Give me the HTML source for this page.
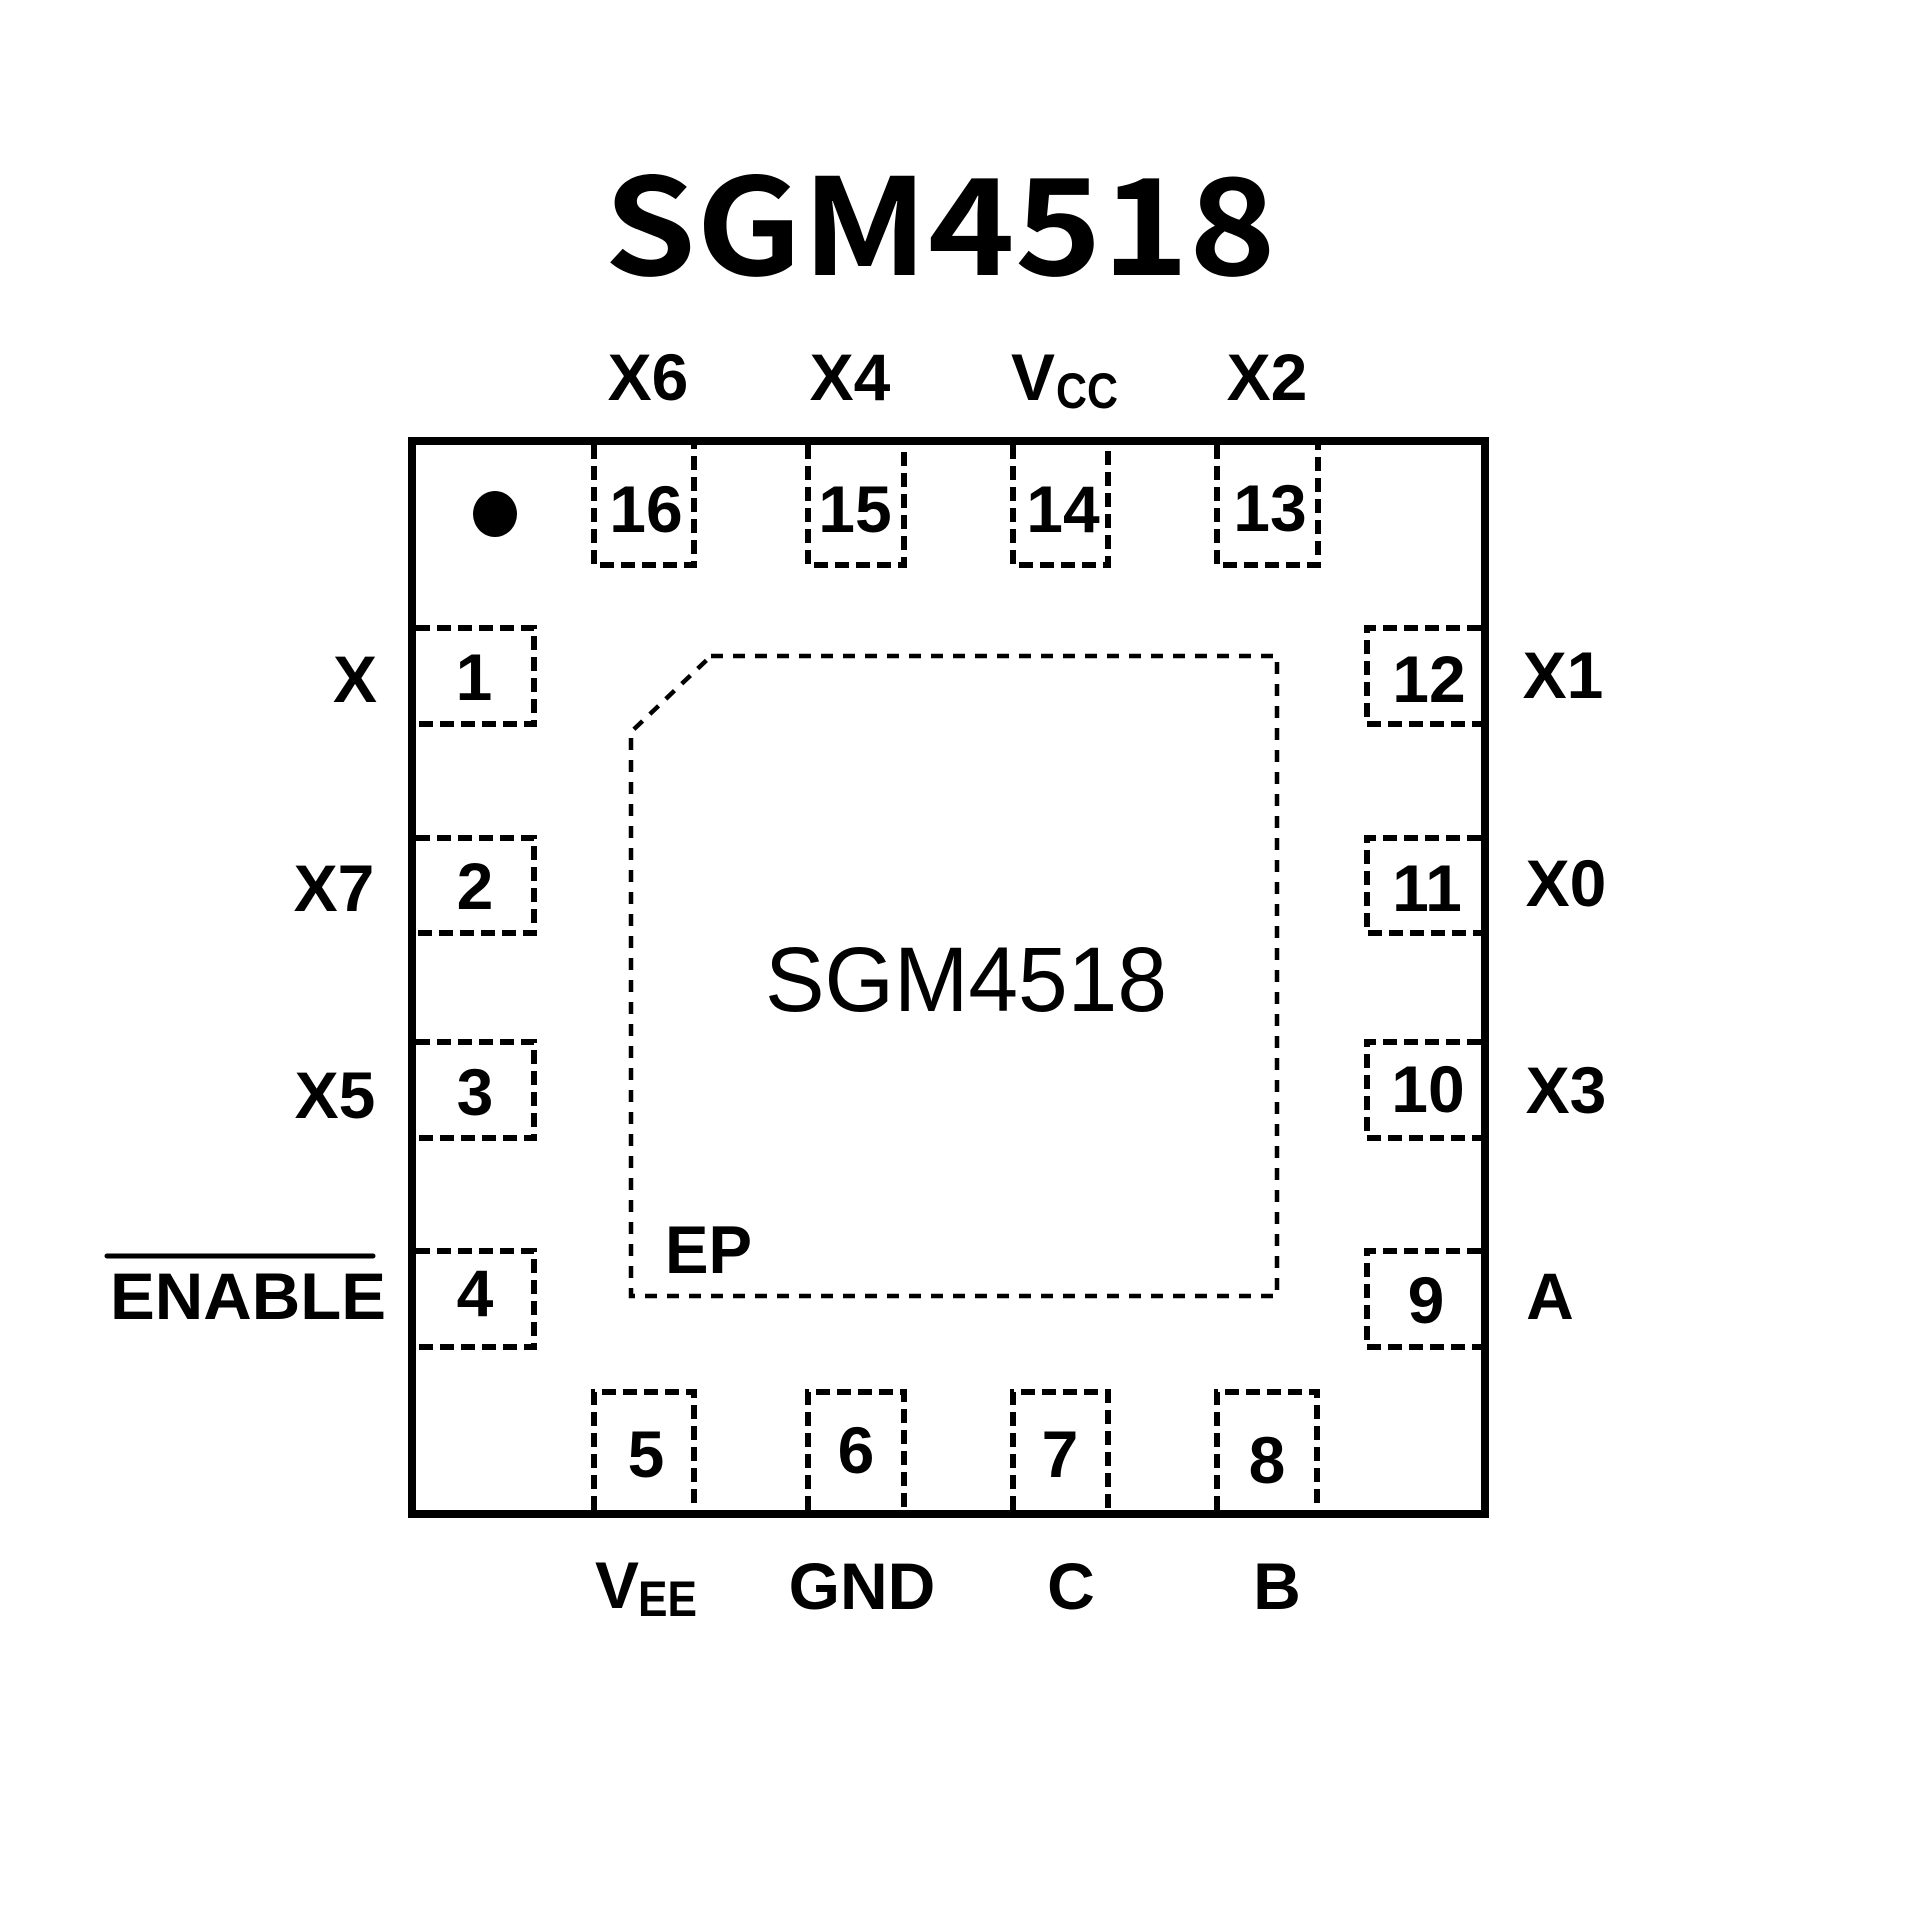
<!DOCTYPE html>
<html>
<head>
<meta charset="utf-8">
<style>
  html, body { margin: 0; padding: 0; background: #ffffff; }
  body { width: 1920px; height: 1920px; overflow: hidden; }
  svg { display: block; }
  .lbl { font-family: "Liberation Sans", Arial, sans-serif; font-weight: bold; font-size: 66px; fill: #000; }
  .num { font-family: "Liberation Sans", Arial, sans-serif; font-weight: bold; font-size: 66px; fill: #000; }
  .sub { font-family: "Liberation Sans", Arial, sans-serif; font-weight: bold; font-size: 50px; fill: #000; }
  .pin { fill: none; stroke: #000; stroke-width: 6; stroke-dasharray: 14 7; }
  .ep { fill: none; stroke: #000; stroke-width: 4.5; stroke-dasharray: 12 10; }
</style>
</head>
<body>
<svg width="1920" height="1920" viewBox="0 0 1920 1920" xmlns="http://www.w3.org/2000/svg">
  <rect x="0" y="0" width="1920" height="1920" fill="#fff"/>

  <!-- Title -->
  <text x="604" y="275" font-family="'Noto Sans CJK SC', 'DejaVu Sans', sans-serif" font-weight="bold" font-size="134" textLength="672" lengthAdjust="spacingAndGlyphs" fill="#000">SGM4518</text>

  <!-- Top labels -->
  <text class="lbl" x="648" y="400" text-anchor="middle">X6</text>
  <text class="lbl" x="850" y="400" text-anchor="middle">X4</text>
  <text class="lbl" x="1033" y="400" text-anchor="middle">V</text>
  <text class="sub" x="1056" y="408" textLength="62" lengthAdjust="spacingAndGlyphs">CC</text>
  <text class="lbl" x="1267" y="400" text-anchor="middle">X2</text>

  <!-- Package outline -->
  <rect x="412" y="441" width="1073" height="1073" fill="none" stroke="#000" stroke-width="8"/>

  <!-- Pin 1 dot -->
  <ellipse cx="495" cy="514" rx="22" ry="23" fill="#000"/>

  <!-- Top pins -->
  <path class="pin" d="M594 445 V565 H694 V445"/>
  <path class="pin" d="M808 445 V565 H904 V445"/>
  <path class="pin" d="M1013 445 V565 H1108 V445"/>
  <path class="pin" d="M1217 445 V565 H1318 V445"/>

  <!-- Bottom pins -->
  <path class="pin" d="M594 1510 V1392 H694 V1510"/>
  <path class="pin" d="M808 1510 V1392 H904 V1510"/>
  <path class="pin" d="M1013 1510 V1392 H1108 V1510"/>
  <path class="pin" d="M1217 1510 V1392 H1317 V1510"/>

  <!-- Left pins -->
  <path class="pin" d="M416 628 H534 V724 H416"/>
  <path class="pin" d="M416 838 H534 V933 H416"/>
  <path class="pin" d="M416 1042 H534 V1138 H416"/>
  <path class="pin" d="M416 1251 H534 V1347 H416"/>

  <!-- Right pins -->
  <path class="pin" d="M1481 628 H1367 V724 H1481"/>
  <path class="pin" d="M1481 838 H1367 V933 H1481"/>
  <path class="pin" d="M1481 1042 H1367 V1138 H1481"/>
  <path class="pin" d="M1481 1251 H1367 V1347 H1481"/>

  <!-- Exposed pad -->
  <path class="ep" d="M711 656 H1277 V1296 H631 V732 Z"/>

  <!-- Center text -->
  <text x="765" y="1011" font-family="'Liberation Sans', Arial, sans-serif" font-size="92" textLength="402" lengthAdjust="spacingAndGlyphs" fill="#000">SGM4518</text>
  <text x="665" y="1273" font-family="'Liberation Sans', Arial, sans-serif" font-weight="bold" font-size="68" textLength="87" lengthAdjust="spacingAndGlyphs" fill="#000">EP</text>

  <!-- Pin numbers top -->
  <text class="num" x="646" y="532" text-anchor="middle">16</text>
  <text class="num" x="855" y="532" text-anchor="middle">15</text>
  <text class="num" x="1063" y="532" text-anchor="middle">14</text>
  <text class="num" x="1270" y="531" text-anchor="middle">13</text>

  <!-- Pin numbers left -->
  <text class="num" x="474" y="700" text-anchor="middle">1</text>
  <text class="num" x="475" y="909" text-anchor="middle">2</text>
  <text class="num" x="475" y="1115" text-anchor="middle">3</text>
  <text class="num" x="475" y="1316" text-anchor="middle">4</text>

  <!-- Pin numbers right -->
  <text class="num" x="1429" y="702" text-anchor="middle">12</text>
  <text class="num" x="1427" y="911" text-anchor="middle">11</text>
  <text class="num" x="1428" y="1112" text-anchor="middle">10</text>
  <text class="num" x="1426" y="1323" text-anchor="middle">9</text>

  <!-- Pin numbers bottom -->
  <text class="num" x="646" y="1477" text-anchor="middle">5</text>
  <text class="num" x="856" y="1473" text-anchor="middle">6</text>
  <text class="num" x="1060" y="1477" text-anchor="middle">7</text>
  <text class="num" x="1267" y="1483" text-anchor="middle">8</text>

  <!-- Left labels -->
  <text class="lbl" x="355" y="702" text-anchor="middle">X</text>
  <text class="lbl" x="334" y="911" text-anchor="middle">X7</text>
  <text class="lbl" x="335" y="1118" text-anchor="middle">X5</text>
  <text class="lbl" x="110" y="1319" textLength="276" lengthAdjust="spacingAndGlyphs">ENABLE</text>
  <line x1="107" y1="1256" x2="373" y2="1256" stroke="#000" stroke-width="5" stroke-linecap="round"/>

  <!-- Right labels -->
  <text class="lbl" x="1563" y="698" text-anchor="middle">X1</text>
  <text class="lbl" x="1566" y="906" text-anchor="middle">X0</text>
  <text class="lbl" x="1566" y="1113" text-anchor="middle">X3</text>
  <text class="lbl" x="1550" y="1319" text-anchor="middle">A</text>

  <!-- Bottom labels -->
  <text class="lbl" x="617" y="1608" text-anchor="middle">V</text>
  <text class="sub" x="638" y="1616" textLength="59" lengthAdjust="spacingAndGlyphs">EE</text>
  <text class="lbl" x="862" y="1609" text-anchor="middle">GND</text>
  <text class="lbl" x="1071" y="1609" text-anchor="middle">C</text>
  <text class="lbl" x="1277" y="1609" text-anchor="middle">B</text>
</svg>
</body>
</html>
